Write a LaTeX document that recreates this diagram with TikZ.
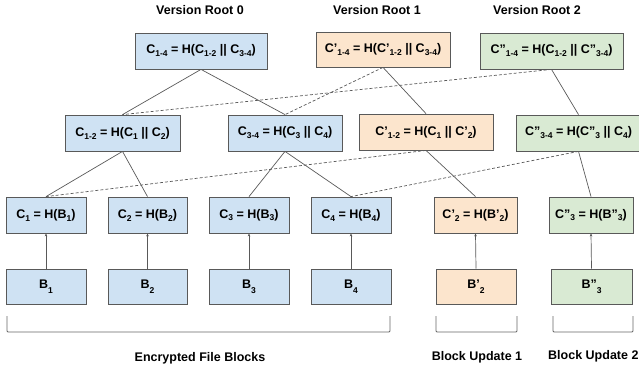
\documentclass[tikz,border=0pt]{standalone}
\usepackage{fontspec}
\setmainfont{Liberation Sans}
\usetikzlibrary{arrows.meta}
\definecolor{bfill}{HTML}{CFE2F3}
\definecolor{ofill}{HTML}{FCE5CD}
\definecolor{gfill}{HTML}{D9EAD3}
\definecolor{edgec}{HTML}{595959}
\definecolor{brc}{HTML}{666666}
\newcommand\sbs[1]{\raisebox{-0.45ex}{\fontsize{8.5}{9}\selectfont #1}}
\newcommand\sbb[1]{\raisebox{-0.8ex}{\fontsize{8.5}{9}\selectfont #1}}
\tikzset{
  box/.style={draw=edgec, line width=0.8pt, inner sep=0pt, minimum height=36pt,
    font=\fontsize{12.5}{14}\selectfont\bfseries},
  blue/.style={box, fill=bfill},
  orange/.style={box, fill=ofill},
  green/.style={box, fill=gfill},
  link/.style={draw=edgec, line width=0.7pt},
  dlink/.style={draw=edgec, line width=0.7pt, dash pattern=on 3pt off 2pt},
  harrow/.style={draw=edgec, line width=0.7pt, -{Stealth[length=3pt,width=2.6pt]}},
  brk/.style={draw=brc, line width=0.9pt, rounded corners=1pt},
  lbl/.style={font=\fontsize{12.5}{14}\selectfont\bfseries, inner sep=0pt},
}
\begin{document}
\begin{tikzpicture}[x=1pt,y=-1pt]
\useasboundingbox (0,0) rectangle (639,375);
% labels
\node[lbl] (v0) at (200,10) {Version Root 0};
\node[lbl] (v1) at (377,10) {Version Root 1};
\node[lbl] (v2) at (537,10) {Version Root 2};
\node[lbl] (enc) at (200,358) {Encrypted File Blocks};
\node[lbl] (bu1) at (477,357) {Block Update 1};
\node[lbl, anchor=west] (bu2) at (548,356) {Block Update 2};
% top row
\node[blue, minimum width=132pt] (r0) at (201,51) {C\sbs{1-4} = H(C\sbs{1-2} || C\sbs{3-4})};
\node[orange, minimum width=134pt, minimum height=35pt] (r1) at (383,49.5) {C'\sbs{1-4} = H(C'\sbs{1-2} || C\sbs{3-4})};
\node[green, minimum width=143pt] (r2) at (551.5,51) {C''\sbs{1-4} = H(C\sbs{1-2} || C''\sbs{3-4})};
% second row
\node[blue, minimum width=115pt] (a12) at (122.5,133) {C\sbs{1-2} = H(C\sbs{1} || C\sbs{2})};
\node[blue, minimum width=114pt] (a34) at (285,133) {C\sbs{3-4} = H(C\sbs{3} || C\sbs{4})};
\node[orange, minimum width=134pt] (p12) at (426,132) {C'\sbs{1-2} = H(C\sbs{1} || C'\sbs{2})};
\node[green, minimum width=125pt] (q34) at (578.5,133) {C''\sbs{3-4} = H(C''\sbs{3} || C\sbs{4})};
% third row
\node[blue, minimum width=80pt] (c1) at (46,215) {C\sbs{1} = H(B\sbs{1})};
\node[blue, minimum width=79pt] (c2) at (147.5,215) {C\sbs{2} = H(B\sbs{2})};
\node[blue, minimum width=80pt] (c3) at (249,215) {C\sbs{3} = H(B\sbs{3})};
\node[blue, minimum width=80pt] (c4) at (351,215) {C\sbs{4} = H(B\sbs{4})};
\node[orange, minimum width=83pt] (c2p) at (475.5,215) {C'\sbs{2} = H(B'\sbs{2})};
\node[green, minimum width=84pt] (c3q) at (591,215) {C''\sbs{3} = H(B''\sbs{3})};
% block row
\node[blue, minimum width=80pt, minimum height=35pt] (b1) at (46,286.5) {B\sbb{1}};
\node[blue, minimum width=79pt, minimum height=35pt] (b2) at (147.5,286.5) {B\sbb{2}};
\node[blue, minimum width=80pt, minimum height=35pt] (b3) at (249,286.5) {B\sbb{3}};
\node[blue, minimum width=80pt, minimum height=35pt] (b4) at (351,286.5) {B\sbb{4}};
\node[orange, minimum width=80pt, minimum height=35pt] (b2p) at (476,286.5) {B'\sbb{2}};
\node[green, minimum width=81pt, minimum height=35pt] (b3q) at (591.5,286.5) {B''\sbb{3}};
% solid tree links
\draw[link] (r0.south) -- (a12.north);
\draw[link] (r0.south) -- (a34.north);
\draw[link] (a12.south) -- (c1.north);
\draw[link] (a12.south) -- (c2.north);
\draw[link] (a34.south) -- (c3.north);
\draw[link] (a34.south) -- (c4.north);
\draw[link] (r1.south) -- (p12.north);
\draw[link] (p12.south) -- (c2p.north);
\draw[link] (r2.south) -- (q34.north);
\draw[link] (q34.south) -- (c3q.north);
% dashed reuse links
\draw[dlink] (r1.south) -- (a34.north);
\draw[dlink] (r2.south) -- (a12.north);
\draw[dlink] (p12.south) -- (c1.north);
\draw[dlink] (q34.south) -- (c4.north);
% hash arrows
\foreach \b/\c in {b1/c1,b2/c2,b3/c3,b4/c4,b2p/c2p,b3q/c3q}
  \draw[harrow] (\b.north) -- (\c.south);
% brackets
\draw[brk] (7,316) -- (7,332) -- (390,332) -- (390,316);
\draw[brk] (436,316) -- (436,332) -- (517,332) -- (517,316);
\draw[brk] (553,316) -- (553,332) -- (633,332) -- (633,316);
\end{tikzpicture}
\end{document}
